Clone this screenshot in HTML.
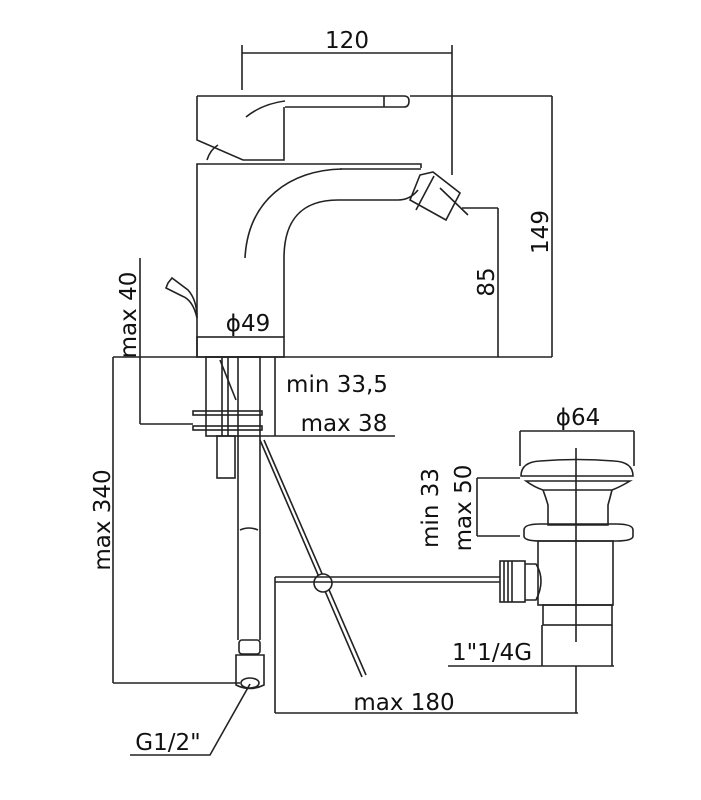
<!DOCTYPE html>
<html><head><meta charset="utf-8"><style>
html,body{margin:0;padding:0;background:#fff;}
svg{display:block}
text{font-family:"DejaVu Sans","Liberation Sans",sans-serif;fill:#111;}
</style></head><body>
<svg width="701" height="800" viewBox="0 0 701 800" xmlns="http://www.w3.org/2000/svg">
<g fill="none" stroke="#222" stroke-width="1.6">
<line x1="242" y1="53" x2="452" y2="53"/>
<line x1="242" y1="45" x2="242" y2="90"/>
<line x1="452" y1="45" x2="452" y2="175"/>
<line x1="410" y1="96" x2="552" y2="96"/>
<line x1="552" y1="96" x2="552" y2="357"/>
<line x1="462" y1="208" x2="498" y2="208"/>
<line x1="498" y1="208" x2="498" y2="357"/>
<line x1="113" y1="357" x2="552" y2="357"/>
<path d="M197 96 H404 Q409 96 409 101 Q409 107 404 107 H285"/>
<line x1="384" y1="96" x2="384" y2="107"/>
<path d="M197 96 V140 L243 160 H284 V107"/>
<path d="M246 117 Q262 104 285 101"/>
<path d="M207 160 Q210 150 218 145"/>
<path d="M197 357 V164 H421 V168"/>
<line x1="340" y1="169" x2="421" y2="169"/>
<rect x="197" y="337" width="87" height="20"/>
<line x1="284" y1="258" x2="284" y2="337"/>
<path d="M245 258 C248 200 290 170 342 169"/>
<path d="M284 258 C284 222 300 200 338 200 H398 Q410 200 418 190"/>
<path d="M420 175 L433 172 L460 193 L446 220 L410 200 Z"/>
<line x1="434" y1="176" x2="416" y2="210"/>
<line x1="440" y1="188" x2="468" y2="215"/>
<line x1="140" y1="258" x2="140" y2="424"/>
<line x1="140" y1="424" x2="193" y2="424"/>
<path d="M168 283 L172 278 L188 290 Q197 300 197 318 Q193 300 182 296 L166 288 Z"/>
<rect x="206" y="357" width="54" height="79"/>
<line x1="222" y1="357" x2="222" y2="436"/>
<line x1="228" y1="357" x2="228" y2="436"/>
<line x1="238" y1="357" x2="238" y2="436"/>
<path d="M220 360 L236 400"/>
<rect x="193" y="411" width="69" height="4"/>
<rect x="193" y="426" width="69" height="4"/>
<rect x="217" y="436" width="18" height="42"/>
<line x1="238" y1="436" x2="238" y2="640"/>
<line x1="260" y1="436" x2="260" y2="640"/>
<path d="M240 530 Q249 526 258 530"/>
<rect x="239" y="640" width="21" height="14" rx="3"/>
<path d="M236 655 H264 V685 Q250 692 236 685 Z"/>
<ellipse cx="250" cy="683" rx="9" ry="5"/>
<line x1="275" y1="357" x2="275" y2="436"/>
<line x1="260" y1="436" x2="395" y2="436"/>
<line x1="113" y1="357" x2="113" y2="683"/>
<line x1="113" y1="683" x2="240" y2="683"/>
<path d="M250 684 L210 755 H130"/>
<line x1="260" y1="440" x2="362" y2="677"/>
<line x1="264" y1="440" x2="366" y2="675"/>
<circle cx="323" cy="583" r="9" fill="#fff"/>
<line x1="275" y1="577" x2="500" y2="577"/>
<line x1="275" y1="582" x2="500" y2="582"/>
<line x1="275" y1="577" x2="275" y2="713"/>
<line x1="275" y1="713" x2="578" y2="713"/>
<line x1="576" y1="666" x2="576" y2="713"/>
<line x1="520" y1="431" x2="634" y2="431"/>
<line x1="520" y1="431" x2="520" y2="466"/>
<line x1="634" y1="431" x2="634" y2="466"/>
<path d="M521 476 Q521 462 540 461 Q577 458 614 461 Q633 462 633 476 Z"/>
<path d="M526 481 H630 Q620 487 612 490 H543 Q534 487 526 481Z"/>
<path d="M543 490 Q546 498 548 505 V525 H608 V505 Q610 498 612 490"/>
<path d="M524 530 Q524 524 540 524 H616 Q633 524 633 530 V536 Q633 541 616 541 H540 Q524 541 524 536 Z"/>
<rect x="538" y="541" width="75" height="64"/>
<rect x="543" y="605" width="69" height="20"/>
<line x1="576" y1="448" x2="576" y2="642"/>
<line x1="477" y1="478" x2="477" y2="536"/>
<line x1="477" y1="478" x2="520" y2="478"/>
<line x1="477" y1="536" x2="520" y2="536"/>
<rect x="500" y="561" width="25" height="41"/>
<line x1="504" y1="561" x2="504" y2="602"/>
<line x1="508" y1="561" x2="508" y2="602"/>
<line x1="512" y1="561" x2="512" y2="602"/>
<path d="M525 564 H536 Q546 580 536 600 H525"/>
<line x1="448" y1="666" x2="614" y2="666"/>
<line x1="542" y1="625" x2="542" y2="666"/>
<line x1="612" y1="625" x2="612" y2="666"/>
</g>
<g font-size="23">
<text x="347" y="48" text-anchor="middle">120</text>
<text x="248" y="331" text-anchor="middle">ϕ49</text>
<text x="337" y="392" text-anchor="middle">min 33,5</text>
<text x="344" y="431" text-anchor="middle">max 38</text>
<text x="578" y="425" text-anchor="middle">ϕ64</text>
<text x="492" y="660" text-anchor="middle">1"1/4G</text>
<text x="404" y="710" text-anchor="middle">max 180</text>
<text x="168" y="750" text-anchor="middle">G1/2"</text>
<text transform="translate(136,315) rotate(-90)" text-anchor="middle">max 40</text>
<text transform="translate(110,520) rotate(-90)" text-anchor="middle">max 340</text>
<text transform="translate(494,282) rotate(-90)" text-anchor="middle">85</text>
<text transform="translate(548,232) rotate(-90)" text-anchor="middle">149</text>
<text transform="translate(438,508) rotate(-90)" text-anchor="middle">min 33</text>
<text transform="translate(471,508) rotate(-90)" text-anchor="middle">max 50</text>
</g>
</svg>
</body></html>
